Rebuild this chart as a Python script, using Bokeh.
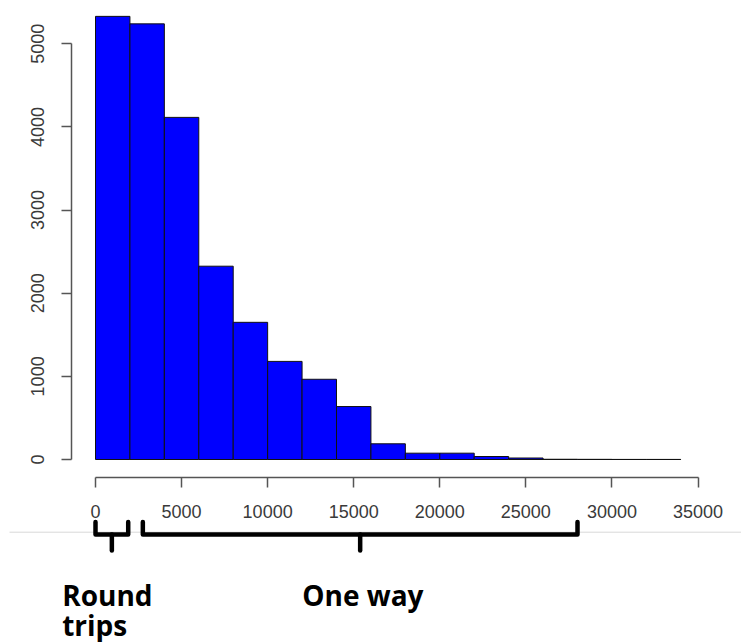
from bokeh.plotting import figure
from bokeh.models import Range1d, FixedTicker, PrintfTickFormatter, LinearAxis
from bokeh.embed import file_html
from bokeh.resources import INLINE
from bokeh.core.properties import value

# ---- data ----
bin_edges = [0, 2000, 4000, 6000, 8000, 10000, 12000, 14000, 16000, 18000,
             20000, 22000, 24000, 26000, 28000, 30000, 32000, 34000]
counts = [5330, 5240, 4115, 2325, 1650, 1180, 965, 637, 189, 76, 76, 36, 18, 3, 2, 1, 1]
x_ticks = [0, 5000, 10000, 15000, 20000, 25000, 30000, 35000]
y_ticks = [0, 1000, 2000, 3000, 4000, 5000]
round_trip_span = [0, 1900]
one_way_span = [2750, 28000]
round_trip_lines = ["Round", "trips"]
one_way_label = "One way"

# ---- pixel geometry of the canvas ----
W, H = 741, 642
X0_PX, X35_PX = 95.0, 697.5
Y0_PX, Y5_PX = 459.0, 43.3
sx = (X35_PX - X0_PX) / 35000.0
sy = (Y0_PX - Y5_PX) / 5000.0

def dx(px):
    return (px - X0_PX) / sx

def dy(py):
    return (Y0_PX - py) / sy

p = figure(width=W, height=H, output_backend="svg", toolbar_location=None,
           x_axis_location=None, y_axis_location=None,
           x_range=Range1d(dx(0), dx(W)), y_range=Range1d(dy(H), dy(0)),
           min_border=0)
p.outline_line_color = None
p.xgrid.visible = False
p.ygrid.visible = False
p.background_fill_color = "white"
p.border_fill_color = "white"

# histogram bars
p.quad(left=bin_edges[:-1], right=bin_edges[1:], bottom=0, top=counts,
       fill_color="#0000FF", line_color="#111111", line_width=1)

# axes
def style_axis(ax):
    ax.axis_line_color = "#555555"
    ax.axis_line_width = 1.5
    ax.major_tick_line_color = "#555555"
    ax.major_tick_line_width = 1.5
    ax.major_tick_out = 10
    ax.major_tick_in = 0
    ax.minor_tick_line_color = None
    ax.major_label_text_font = "Liberation Sans"
    ax.major_label_text_font_size = "18px"
    ax.major_label_text_color = "#3a3a3a"
    ax.formatter = PrintfTickFormatter(format="%d")

xax = LinearAxis(ticker=FixedTicker(ticks=x_ticks), fixed_location=dy(477.3))
style_axis(xax)
xax.bounds = (x_ticks[0], x_ticks[-1])
xax.major_label_standoff = 17
p.add_layout(xax, "below")

yax = LinearAxis(ticker=FixedTicker(ticks=y_ticks), fixed_location=dx(70.7))
style_axis(yax)
yax.bounds = (y_ticks[0], y_ticks[-1])
yax.major_label_orientation = "vertical"
yax.major_label_standoff = 17
p.add_layout(yax, "left")

# light separator line
p.line(x=[dx(9), dx(W)], y=[dy(531.7), dy(531.7)], line_color="#d8d8d8", line_width=1)

# brackets
top_y, bar_y, stem_y = dy(521.5), dy(534), dy(550)
for span in (round_trip_span, one_way_span):
    a, b = span
    mid = (a + b) / 2.0
    p.line(x=[a, a, b, b], y=[top_y, bar_y, bar_y, top_y],
           line_color="black", line_width=4.5, line_join="round", line_cap="round")
    p.line(x=[mid, mid], y=[bar_y, stem_y], line_color="black", line_width=4.5,
           line_cap="round")

# group labels
p.text(x=[dx(61.7), dx(61.7)], y=[dy(594), dy(624)], text=round_trip_lines,
       text_font=value("Open Sans"), text_font_style="bold", text_font_size="28px",
       text_color="black", text_baseline="alphabetic", text_align="left")
p.text(x=[dx(301.7)], y=[dy(594)], text=[one_way_label],
       text_font=value("Open Sans"), text_font_style="bold", text_font_size="28px",
       text_color="black", text_baseline="alphabetic", text_align="left")

open("out.html", "w").write(file_html(p, INLINE))
